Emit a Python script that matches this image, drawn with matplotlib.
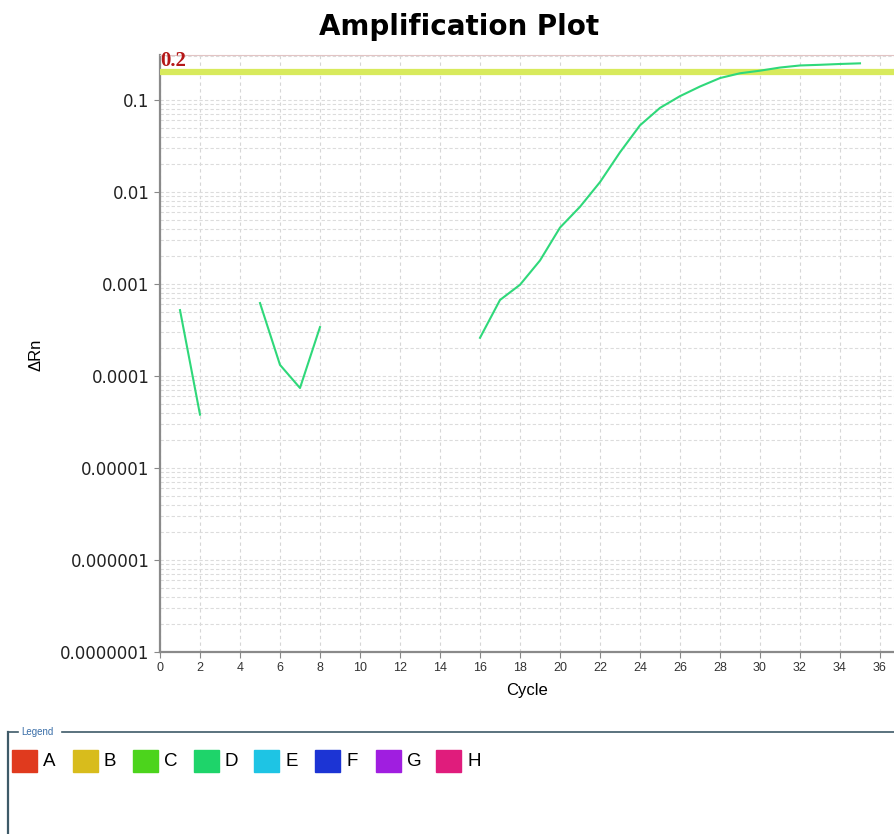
import numpy as np
import matplotlib.pyplot as plt
from matplotlib.patches import Rectangle
from matplotlib.lines import Line2D

plt.rcParams['font.family'] = ['Liberation Sans', 'DejaVu Sans']

# delta Rn per cycle for well D (NaN where nothing was recorded)
cycles = np.arange(1, 36)
delta_rn = np.array([
    5.2e-4, 3.8e-5, np.nan, np.nan, 6.2e-4, 1.32e-4, 7.4e-5, 3.4e-4,
    np.nan, np.nan, np.nan, np.nan, np.nan, np.nan, np.nan,
    2.6e-4, 6.7e-4, 9.8e-4, 1.8e-3, 4.1e-3, 6.9e-3, 0.0128, 0.027,
    0.053, 0.082, 0.11, 0.14, 0.173, 0.195, 0.208, 0.225, 0.237,
    0.241, 0.246, 0.25,
])
threshold = 0.2

legend_names = ['A', 'B', 'C', 'D', 'E', 'F', 'G', 'H']
legend_colors = ['#e03a1e', '#d8bc1c', '#4cd41c', '#1ed46a',
                 '#1ec4e4', '#1c34d4', '#a01ee0', '#e01c7c']

y_ticks = [1e-7, 1e-6, 1e-5, 1e-4, 1e-3, 1e-2, 1e-1]
y_labels = ['0.0000001', '0.000001', '0.00001', '0.0001', '0.001', '0.01', '0.1']
x_ticks = list(range(0, 37, 2))

W, H = 894, 834
fig = plt.figure(figsize=(W / 100, H / 100), dpi=100)
ax = fig.add_axes([160 / W, (H - 652) / H, 734 / W, (652 - 55) / H])

ax.set_yscale('log')
ax.set_xlim(0, 36.7)
ax.set_ylim(1e-7, 0.308)

ax.grid(True, which='major', axis='x', color='#d6d6d6', linestyle=(0, (3, 3)), lw=0.8)
ax.grid(True, which='both', axis='y', color='#dcdcdc', linestyle=(0, (3, 2)), lw=0.8)

ax.axhline(threshold, color='#d8ea5c', lw=4.5, zorder=3)
ax.plot(cycles, delta_rn, color='#2fd87a', lw=1.5, zorder=4)

ax.set_yticks(y_ticks)
ax.set_yticklabels(y_labels, family='DejaVu Sans')
ax.yaxis.set_minor_formatter(plt.NullFormatter())
ax.tick_params(axis='y', which='minor', length=0)
ax.tick_params(axis='y', which='major', labelsize=12, length=4, color='#888888', labelcolor='#222222')
ax.set_xticks(x_ticks)
ax.tick_params(axis='x', labelsize=9, length=4, color='#888888', labelcolor='#333333')

for side in ['left', 'bottom']:
    ax.spines[side].set_color('#8a8a8a')
    ax.spines[side].set_linewidth(1.6)
ax.spines['right'].set_visible(False)
ax.spines['top'].set_color('#e2c4c4')

ax.set_xlabel('Cycle', fontsize=12, labelpad=6)
ax.set_ylabel('ΔRn', fontsize=12)
ax.yaxis.set_label_coords(-0.159, 0.497)

ax.text(0.0, threshold * 1.02, '0.2', color='#b51818', fontsize=15, fontweight='bold',
        family='Liberation Serif', va='bottom', ha='left', zorder=5)

fig.text(459 / W, 1 - 27 / H, 'Amplification Plot', ha='center', va='center',
         fontsize=20, fontweight='bold', family='DejaVu Sans')

# legend panel
frame = '#3e5a68'
fig.add_artist(Line2D([8 / W, 18 / W], [1 - 732 / H] * 2, color=frame, lw=1.2))
fig.add_artist(Line2D([62 / W, 1.0], [1 - 732 / H] * 2, color=frame, lw=1.2))
fig.add_artist(Line2D([8 / W, 8 / W], [1 - 732 / H, 0], color=frame, lw=1.6))
fig.text(21 / W, 1 - 732 / H, 'Legend', color='#3a6ea8', fontsize=7, va='center', ha='left')

for i, (name, col) in enumerate(zip(legend_names, legend_colors)):
    x0 = 12 + i * 60.6
    fig.add_artist(Rectangle((x0 / W, 1 - 772 / H), 25 / W, 22 / H, color=col))
    fig.text((x0 + 31) / W, 1 - 762 / H, name, fontsize=13.5, va='center', ha='left')

fig.savefig('out.png', dpi=100)
